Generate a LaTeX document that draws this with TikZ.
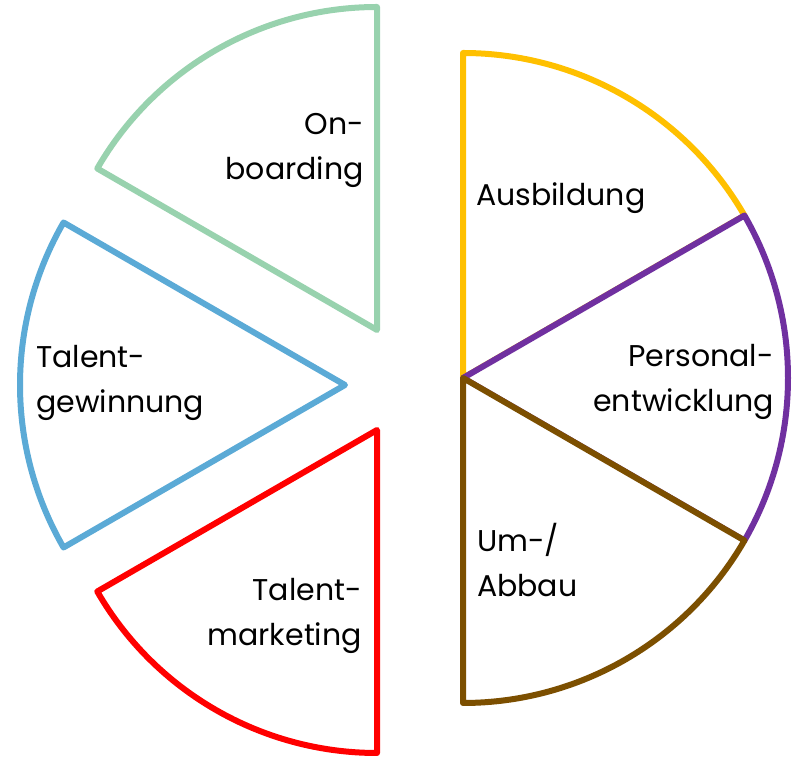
\documentclass[tikz,border=0pt]{standalone}
\usepackage{fontspec}
\setmainfont{Poppins}
\definecolor{cyellow}{HTML}{FFC000}
\definecolor{cpurple}{HTML}{7030A0}
\definecolor{cbrown}{HTML}{7C4F00}
\definecolor{cgreen}{HTML}{98D2AE}
\definecolor{cblue}{HTML}{5BAAD6}
\definecolor{cred}{HTML}{FF0000}
\begin{document}
\begin{tikzpicture}[x=1pt,y=1pt,
  wedge/.style={line width=6pt,line join=round,fill=white},
  lbl/.style={font=\fontsize{30}{45}\selectfont,inner sep=0pt}]
\useasboundingbox (0,0) rectangle (792,759);
% right pie
\coordinate (c) at (463,381);
\draw[cyellow,wedge] (c) -- ++(90:325) arc[start angle=90,end angle=30,radius=325] -- cycle;
\draw[cpurple,wedge] (c) -- ++(30:325) arc[start angle=30,end angle=-30,radius=325] -- cycle;
\draw[cbrown,wedge] (c) -- ++(-30:325) arc[start angle=-30,end angle=-90,radius=325] -- cycle;
% exploded left wedges
\coordinate (ob) at (377,429);
\coordinate (tg) at (345,374);
\coordinate (tm) at (377,329);
\draw[cgreen,wedge] (ob) -- ++(90:323) arc[start angle=90,end angle=150,radius=323] -- cycle;
\draw[cblue,wedge] (tg) -- ++(150:325) arc[start angle=150,end angle=210,radius=325] -- cycle;
\draw[cred,wedge] (tm) -- ++(210:323) arc[start angle=210,end angle=270,radius=323] -- cycle;
% labels
\node[lbl,anchor=base west] (aus) at (476,553) {Ausbildung};
\node[lbl,anchor=base east,align=right] (onb) at (364,579) {On-\\boarding};
\node[lbl,anchor=base west,align=left] (tgw) at (36,346) {Talent-\\gewinnung};
\node[lbl,anchor=base east,align=right] (pers) at (774,347) {Personal-\\entwicklung};
\node[lbl,anchor=base west,align=left] (um) at (477,162) {Um-/\\Abbau};
\node[lbl,anchor=base east,align=right] (tmk) at (362,113) {Talent-\\marketing};
\end{tikzpicture}
\end{document}
